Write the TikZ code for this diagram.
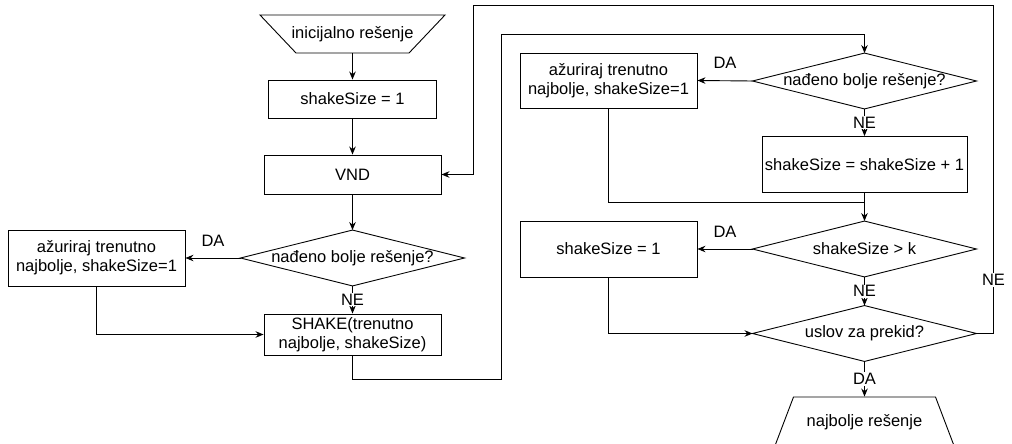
\documentclass[tikz,border=0pt]{standalone}
\usepackage{fontspec}
\setmainfont{Liberation Sans}
\usepackage{tikz}
\usetikzlibrary{arrows.meta,calc}

\tikzset{
  block/.style={draw, rectangle, align=center, inner sep=2pt},
  decision/.style={rectangle, align=center, minimum width=223pt, minimum height=55pt, inner sep=0pt},
  terminal/.style={rectangle, align=center, inner sep=0pt},
  lbl/.style={fill=white, inner sep=1pt},
}

\begin{document}
\begin{tikzpicture}[x=1pt, y=-1pt, font=\fontsize{16.5}{19}\selectfont, line width=0.9pt, >={Stealth[length=8pt,width=6.5pt]}]
\useasboundingbox (0,0) rectangle (1012,444);

% left part
\node[terminal, minimum height=38pt] (start) at (352.5,34) {inicijalno rešenje};
\node[block, minimum width=168pt, minimum height=38pt] (init) at (352.5,99) {shakeSize = 1};
\node[block, minimum width=177pt, minimum height=39pt] (vnd) at (352.5,174.5) {VND};
\node[decision] (test1) at (352.5,258) {nađeno bolje rešenje?};
\node[block, minimum width=177pt, minimum height=56pt] (upd1) at (96.5,258) {ažuriraj trenutno\\najbolje, shakeSize=1};
\node[block, minimum width=177pt, minimum height=41pt] (shake) at (352.5,334.5) {SHAKE(trenutno\\najbolje, shakeSize)};

% right part
\node[decision] (test2) at (864.5,81) {nađeno bolje rešenje?};
\node[block, minimum width=177pt, minimum height=55pt] (upd2) at (608.5,80.5) {ažuriraj trenutno\\najbolje, shakeSize=1};
\node[block, minimum width=205pt, minimum height=56pt] (inc) at (864.5,164.5) {shakeSize = shakeSize + 1};
\node[decision] (test3) at (864.5,249) {shakeSize > k};
\node[block, minimum width=177pt, minimum height=56pt] (rst) at (608.5,249) {shakeSize = 1};
\node[decision] (test4) at (864.5,333.5) {uslov za prekid?};
\node[terminal, minimum height=50pt] (stop) at (864.5,422) {najbolje rešenje};

% outlines
\draw ([shift={(-92.5,-19)}]start.center) -- ([shift={(92.5,-19)}]start.center)
  -- ([shift={(56.5,19)}]start.center) -- ([shift={(-56.5,19)}]start.center) -- cycle;
\draw ([shift={(-71,-25)}]stop.center) -- ([shift={(71,-25)}]stop.center)
  -- ([shift={(90,25)}]stop.center) -- ([shift={(-90,25)}]stop.center) -- cycle;
\foreach \d in {test1,test2,test3,test4}
  \draw (\d.north) -- (\d.east) -- (\d.south) -- (\d.west) -- cycle;

\coordinate (loopA) at (501.7,379);
\coordinate (loopB) at (864.5,34);
\coordinate (merge) at (864.5,202);
\coordinate (loopC) at (993.5,333.5);
\coordinate (loopD) at (993.5,5);
\coordinate (loopE) at (473,5);
\coordinate (loopF) at (473,174.5);

% connectors
\draw[->] (start.south) -- (init.north);
\draw[->] (init) -- (vnd);
\draw[->] (vnd) -- (test1);
\draw[->] (test1.west) -- node[above=8pt] (da1) {DA} (upd1.east);
\draw[->] (test1) -- node[lbl] (ne1) {NE} (shake);
\draw[->] (upd1.south) |- (shake.west);
\draw[->] (shake.south) |- (loopA) |- (loopB) -- (test2.north);
\draw[->] (test2.west) -- node[above=8pt] (da2) {DA} (upd2.east);
\draw[->] (test2) -- node[lbl] (ne2) {NE} (inc);
\draw[->] (inc) -- (test3);
\draw (upd2.south) |- (merge);
\draw[->] (test3.west) -- node[above=8pt] (da3) {DA} (rst.east);
\draw[->] (test3) -- node[lbl] (ne3) {NE} (test4);
\draw[->] (rst.south) |- (test4.west);
\draw[->] (test4) -- node[lbl] (da4) {DA} (stop);
\draw[->] (test4.east) -- (loopC) -- node[lbl, pos=0.163] (ne5) {NE} (loopD) -- (loopE) -- (loopF) -- (vnd.east);

\end{tikzpicture}
\end{document}
